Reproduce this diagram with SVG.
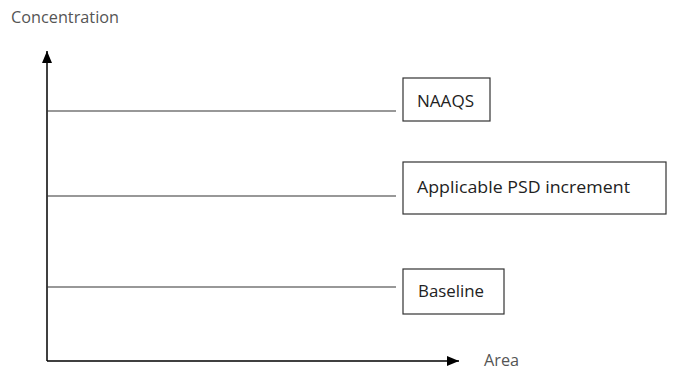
<svg xmlns="http://www.w3.org/2000/svg" width="673" height="371" viewBox="0 0 673 371">
<style>
.ax{stroke:#000;stroke-width:1.5;fill:none}
.ln{stroke:#333;stroke-width:1.2;fill:none}
.box{fill:#fff;stroke:#333;stroke-width:1.2}
.lbl{font-family:"Open Sans",sans-serif;font-size:16.5px;fill:#222}
.axl{font-family:"Open Sans",sans-serif;font-size:16px;fill:#555}
</style>
<defs>
<marker id="ah" markerWidth="12" markerHeight="10" refX="12" refY="5" orient="auto" markerUnits="userSpaceOnUse">
<path d="M0,0 L12,5 L0,10 Z" fill="#000"/>
</marker>
</defs>
<rect width="673" height="371" fill="#fff"/>
<text class="axl" x="11" y="23" textLength="108" lengthAdjust="spacingAndGlyphs">Concentration</text>
<text class="axl" x="484" y="366" font-size="15px" textLength="35" lengthAdjust="spacingAndGlyphs">Area</text>
<g id="connectors">
<line class="ax" x1="47" y1="361" x2="47" y2="51" marker-end="url(#ah)"/>
<line class="ax" x1="47" y1="361" x2="459" y2="361" marker-end="url(#ah)"/>
<line class="ln" x1="47" y1="111" x2="396" y2="111"/>
<line class="ln" x1="47" y1="196" x2="396" y2="196"/>
<line class="ln" x1="47" y1="287" x2="396" y2="287"/>
</g>
<g id="naaqs">
<rect class="box" x="403" y="78" width="87" height="43"/>
<text class="lbl" x="417" y="107" textLength="57" lengthAdjust="spacingAndGlyphs">NAAQS</text>
</g>
<g id="psd">
<rect class="box" x="403" y="162" width="263" height="52"/>
<text class="lbl" x="417" y="193" textLength="213" lengthAdjust="spacingAndGlyphs">Applicable PSD increment</text>
</g>
<g id="baseline">
<rect class="box" x="403" y="269" width="101" height="45"/>
<text class="lbl" x="418" y="297" textLength="66" lengthAdjust="spacingAndGlyphs">Baseline</text>
</g>
</svg>
